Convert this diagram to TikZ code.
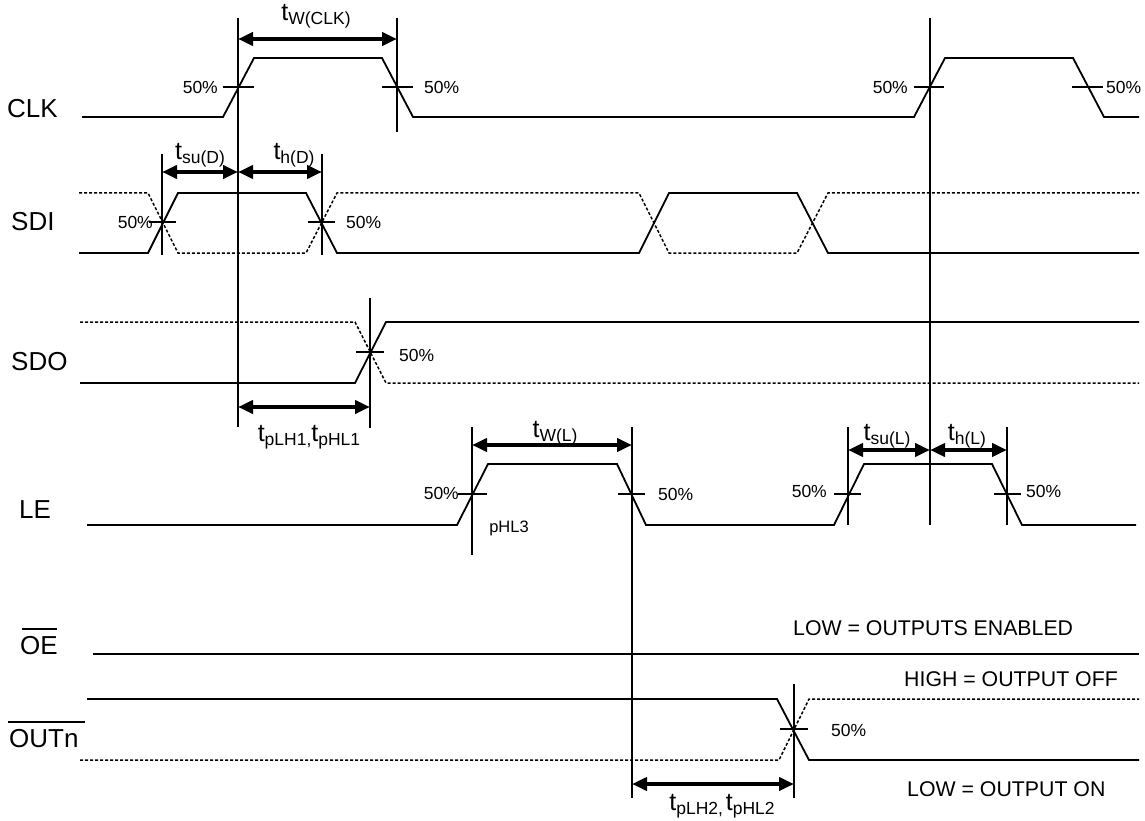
\documentclass[tikz,border=0pt]{standalone}
\usepackage{fontspec}
\setmainfont{Liberation Sans}
\usetikzlibrary{arrows.meta}
\newcommand{\tsb}[1]{{\fontsize{25}{28}\selectfont t}\raisebox{-4pt}{\fontsize{17.5}{20}\selectfont #1}}
\begin{document}
\begin{tikzpicture}[x=1pt,y=-1pt,
  wave/.style={line width=1.8pt, line join=miter},
  ghost/.style={line width=1.5pt, dash pattern=on 3pt off 2pt},
  refl/.style={line width=1.5pt},
  tk/.style={line width=1.5pt},
  dim/.style={line width=4pt, {Triangle[length=15pt,width=13pt]}-{Triangle[length=15pt,width=13pt]}},
  sig/.style={font=\fontsize{26}{30}\selectfont, inner sep=0pt, anchor=west},
  pct/.style={font=\fontsize{17.5}{20}\selectfont, inner sep=0pt},
  note/.style={font=\fontsize{21.3}{25}\selectfont, inner sep=0pt, anchor=west},
  tl/.style={inner sep=0pt}
]
\useasboundingbox (0,0) rectangle (1145,821);

% ---------- signal names ----------
\node[sig] (nclk) at (7,109) {CLK};
\node[sig] (nsdi) at (11,222) {SDI};
\node[sig] (nsdo) at (11,362) {SDO};
\node[sig] (nle)  at (19,510) {LE};
\node[sig] (noe)  at (20,646) {OE};
\node[sig] (nout) at (9,739) {OUTn};
\draw[line width=1.5pt] (22,629) -- (57,629);
\draw[line width=1.5pt] (8,722) -- (85,722);

% ---------- CLK ----------
\draw[wave] (82,117) -- (223,117) -- (254,58) -- (382,58) -- (413,117) -- (914,117) -- (945,58) -- (1073,58) -- (1104,117) -- (1139,117);
\draw[tk] (223,87) -- (254,87);
\draw[tk] (382,87) -- (413,87);
\draw[tk] (914,87) -- (944,87);
\draw[tk] (1072,87) -- (1103,87);
\node[pct, anchor=east] (c1) at (218,87) {50\%};
\node[pct, anchor=west] (c2) at (424,87) {50\%};
\node[pct, anchor=east] (c3) at (908,87) {50\%};
\node[pct, anchor=west] (c4) at (1106,87) {50\%};

% reference verticals
\draw[refl] (238,18) -- (238,427);
\draw[refl] (397,18) -- (397,132);
\draw[refl] (930,18) -- (930,525);
\draw[dim] (238,39) -- (397,39);
\node[tl] (twclk) at (316,16) {\tsb{W(CLK)}};

% ---------- SDI ----------
\draw[wave] (79,253) -- (148,253) -- (178,193) -- (306,193) -- (337,253) -- (639,253) -- (669,193) -- (797,193) -- (828,253) -- (1139,253);
\draw[ghost] (79,193) -- (148,193) -- (178,253) -- (306,253) -- (337,193) -- (639,193) -- (669,253) -- (797,253) -- (828,193) -- (1139,193);
\draw[refl] (162,154) -- (162,255);
\draw[refl] (322,154) -- (322,255);
\draw[tk] (149,222) -- (176,222);
\draw[tk] (308,222) -- (335,222);
\node[pct, anchor=east] (s1) at (153,222) {50\%};
\node[pct, anchor=west] (s2) at (346,222) {50\%};
\draw[dim] (162,172) -- (238,172);
\draw[dim] (238,172) -- (322,172);
\node[tl] (tsud) at (200,155) {\tsb{su(D)}};
\node[tl] (thd) at (294,155) {\tsb{h(D)}};

% ---------- SDO ----------
\draw[ghost] (80,322) -- (355,322) -- (386,383) -- (1139,383);
\draw[wave] (80,383) -- (355,383) -- (386,322) -- (1139,322);
\draw[refl] (370,298) -- (370,428);
\draw[tk] (356,352) -- (384,352);
\node[pct, anchor=west] (o1) at (399,355) {50\%};
\draw[dim] (238,407) -- (370,407);
\node[tl] (tp1) at (309,437) {\tsb{pLH1,}\tsb{pHL1}};

% ---------- LE ----------
\draw[wave] (87,525) -- (457,525) -- (488,464) -- (617,464) -- (646,525) -- (834,525) -- (864,464) -- (992,464) -- (1022,525) -- (1136,525);
\draw[refl] (472,427) -- (472,555);
\draw[refl] (632,427) -- (632,798);
\draw[refl] (848,427) -- (848,525);
\draw[refl] (1007,427) -- (1007,525);
\draw[tk] (458,494) -- (487,494);
\draw[tk] (618,494) -- (645,494);
\draw[tk] (834,494) -- (861,494);
\draw[tk] (994,494) -- (1021,494);
\node[pct, anchor=east] (l1) at (459,493) {50\%};
\node[pct, anchor=west] (l2) at (658,494) {50\%};
\node[pct, anchor=east] (l3) at (827,491) {50\%};
\node[pct, anchor=west] (l4) at (1026,491) {50\%};
\draw[dim] (472,445) -- (632,445);
\node[tl] (twl) at (555,433) {\tsb{W(L)}};
\draw[dim] (848,450) -- (930,450);
\draw[dim] (930,450) -- (1007,450);
\node[tl] (tsul) at (887,436) {\tsb{su(L)}};
\node[tl] (thl) at (967,436) {\tsb{h(L)}};
\node[pct, font=\fontsize{16.5}{20}\selectfont] (phl3) at (509,528) {pHL3};

% ---------- OE ----------
\draw[wave] (93,654) -- (1139,654);
\node[note] (oen) at (793,628) {LOW = OUTPUTS ENABLED};

% ---------- OUTn ----------
\draw[wave] (87,699) -- (777,699) -- (809,760) -- (1139,760);
\draw[ghost] (80,760) -- (779,760) -- (809,699) -- (1139,699);
\draw[refl] (794,684) -- (794,798);
\draw[tk] (780,729) -- (808,729);
\node[pct, anchor=west] (u1) at (831,730) {50\%};
\draw[dim] (632,784) -- (794,784);
\node[tl] (tp2) at (722,806) {\tsb{pLH2,} \tsb{pHL2}};
\node[note] (hoff) at (904,679) {HIGH = OUTPUT OFF};
\node[note] (lon) at (907,789) {LOW = OUTPUT ON};
\end{tikzpicture}
\end{document}
